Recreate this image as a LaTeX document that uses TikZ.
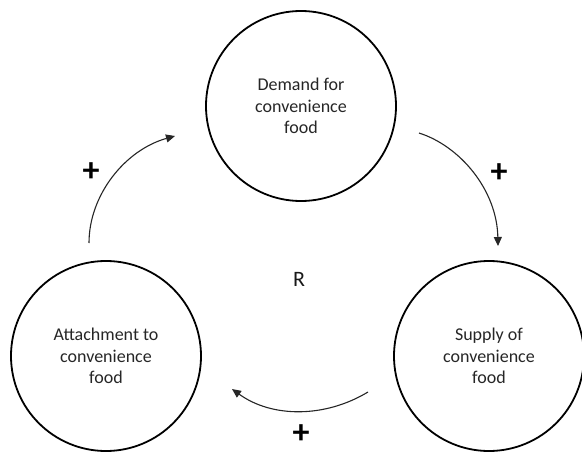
\documentclass[tikz,border=0pt]{standalone}
\usepackage{fontspec}
\setmainfont{Carlito}
\usetikzlibrary{arrows.meta}
\begin{document}
\begin{tikzpicture}[x=1pt,y=-1pt,
  loopnode/.style={circle,draw=black,line width=1.8pt,minimum size=190pt,inner sep=0pt,
    align=center,text=black!85,font=\fontsize{18}{21.7}\selectfont},
  link/.style={line width=1.1pt,draw=black!85,-{Triangle[length=9pt,width=8pt]}},
  sign/.style={font=\fontsize{34}{34}\selectfont\bfseries,inner sep=0pt}]
\useasboundingbox[fill=white] (0,0) rectangle (582,455);
\node[loopnode] (demand) at (301,106) {Demand for\\convenience\\food};
\node[loopnode] (attach) at (106,356) {Attachment to\\convenience\\food};
\node[loopnode] (supply) at (489,356) {Supply of\\convenience\\food};
\node[font=\fontsize{22}{22}\selectfont,text=black!90] (r) at (299,279) {R};
\coordinate (a1s) at (89,243);
\coordinate (a1e) at (175,136);
\coordinate (a2s) at (419,133);
\coordinate (a2e) at (498,246);
\coordinate (a3s) at (368,392);
\coordinate (a3e) at (232,389);
\draw[link] (a1s) .. controls (89,195) and (125,150) .. (a1e);
\draw[link] (a2s) .. controls (460,146) and (497,190) .. (a2e);
\draw[link] (a3s) .. controls (325,418) and (272,418) .. (a3e);
\node[sign] (p1) at (91,172) {+};
\node[sign] (p2) at (499,173) {+};
\node[sign] (p3) at (301,434) {+};
\end{tikzpicture}
\end{document}
